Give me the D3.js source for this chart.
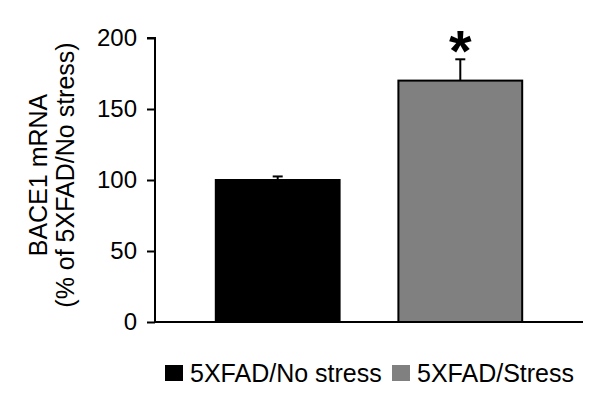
<!DOCTYPE html>
<html>
<head>
<meta charset="utf-8">
<script src="https://cdn.jsdelivr.net/npm/d3@7"></script>
<style>
  body { margin: 0; background: #fff; }
  text { font-family: "Liberation Sans", Arial, sans-serif; }
</style>
</head>
<body>
<div id="chart"></div>
<script>
var w = 600;
var h = 400;

var groups = ["5XFAD/No stress", "5XFAD/Stress"];
var values = [100, 170];
var errors = [2.5, 15];
var colors = ["#000000", "#808080"];
var yTicks = [0, 50, 100, 150, 200];

var margin = { left: 155, right: 17, top: 38, bottom: 78 };

var xScale = d3
  .scaleBand()
  .domain(groups)
  .range([margin.left, w - margin.right])
  .paddingInner(0.322)
  .paddingOuter(0.333);

var yScale = d3
  .scaleLinear()
  .domain([0, 200])
  .range([h - margin.bottom, margin.top]);

var svg = d3.select("#chart").append("svg").attr("width", w).attr("height", h);

// error bars (drawn first, bars cover the lower half)
svg
  .selectAll("line.err")
  .data(values)
  .enter()
  .append("line")
  .attr("class", "err")
  .attr("x1", function (d, i) { return xScale(groups[i]) + xScale.bandwidth() / 2; })
  .attr("x2", function (d, i) { return xScale(groups[i]) + xScale.bandwidth() / 2; })
  .attr("y1", function (d) { return yScale(d); })
  .attr("y2", function (d, i) { return yScale(d + errors[i]); })
  .attr("stroke", "#000")
  .attr("stroke-width", 2);

svg
  .selectAll("line.cap")
  .data(values)
  .enter()
  .append("line")
  .attr("class", "cap")
  .attr("x1", function (d, i) { return xScale(groups[i]) + xScale.bandwidth() / 2 - 5; })
  .attr("x2", function (d, i) { return xScale(groups[i]) + xScale.bandwidth() / 2 + 5; })
  .attr("y1", function (d, i) { return yScale(d + errors[i]); })
  .attr("y2", function (d, i) { return yScale(d + errors[i]); })
  .attr("stroke", "#000")
  .attr("stroke-width", 2);

svg
  .selectAll("rect.bar")
  .data(values)
  .enter()
  .append("rect")
  .attr("class", "bar")
  .attr("x", function (d, i) { return xScale(groups[i]); })
  .attr("y", function (d) { return yScale(d); })
  .attr("width", xScale.bandwidth())
  .attr("height", function (d) { return yScale(0) - yScale(d); })
  .attr("fill", function (d, i) { return colors[i]; })
  .attr("stroke", "#000")
  .attr("stroke-width", 2);

// significance star
svg
  .append("text")
  .attr("x", xScale(groups[1]) + xScale.bandwidth() / 2)
  .attr("y", yScale(values[1] + errors[1]) + 12)
  .attr("text-anchor", "middle")
  .attr("font-size", "58px")
  .attr("font-weight", "bold")
  .text("*");

// axes
var yAxis = d3.axisLeft(yScale).tickValues(yTicks).tickSize(8).tickPadding(10);
var gy = svg
  .append("g")
  .attr("transform", "translate(" + margin.left + ",0)")
  .call(yAxis);
gy.select(".domain").attr("stroke-width", 2).attr("d", "M-8," + yScale(200) + "H0V" + yScale(0));
gy.selectAll(".tick line").attr("stroke-width", 2);
gy.selectAll(".tick text")
  .attr("font-size", "24px")
  .attr("font-family", "Liberation Sans, Arial, sans-serif")
  .attr("fill", "#000");

svg
  .append("line")
  .attr("x1", margin.left)
  .attr("x2", w - margin.right)
  .attr("y1", yScale(0))
  .attr("y2", yScale(0))
  .attr("stroke", "#000")
  .attr("stroke-width", 2);

// y label
var ylab = svg
  .append("text")
  .attr("transform", "translate(47,175) rotate(-90)")
  .attr("text-anchor", "middle")
  .attr("font-size", "25px");
ylab.append("tspan").attr("x", 0).attr("dy", 0).text("BACE1 mRNA");
ylab.append("tspan").attr("x", 0).attr("dy", 27).text("(% of 5XFAD/No stress)");

// legend
var legendX = [165, 392];
var lg = svg
  .selectAll("g.legend")
  .data(groups)
  .enter()
  .append("g")
  .attr("class", "legend")
  .attr("transform", function (d, i) { return "translate(" + legendX[i] + ",365)"; });
lg.append("rect")
  .attr("width", 18)
  .attr("height", 16)
  .attr("fill", function (d, i) { return colors[i]; });
lg.append("text")
  .attr("x", 25)
  .attr("y", 17)
  .attr("font-size", "25px")
  .text(function (d) { return d; });
</script>
</body>
</html>
